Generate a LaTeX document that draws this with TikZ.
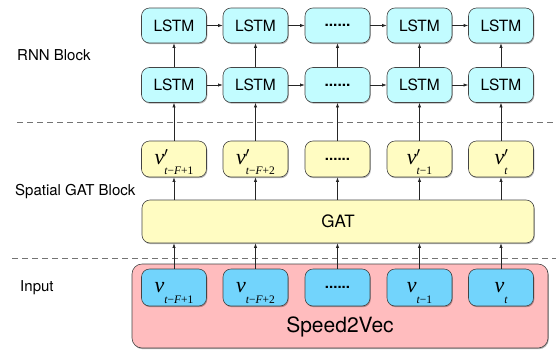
\documentclass[tikz,border=0pt]{standalone}
\usepackage{fontspec}
\setmainfont{TeX Gyre Heros}
\newfontfamily\mytms{Liberation Serif}
\usetikzlibrary{shadows,arrows.meta}
\definecolor{lstmc}{HTML}{C2FCFF}
\definecolor{yelc}{HTML}{FFFCC2}
\definecolor{bluec}{HTML}{72D4FC}
\definecolor{pinkc}{HTML}{FFBCBE}
\definecolor{edgec}{HTML}{444444}
% v with optional prime and a subscript
\newcommand\myvar[2]{\rule{0pt}{21pt}{\mytms\fontsize{22}{22}\selectfont\itshape v}%
  #1\raisebox{-10.5pt}{\mytms\fontsize{11.5}{12}\selectfont #2}}
\newcommand\myprime{\rlap{\kern-0.5pt\raisebox{7pt}{\fontsize{15}{15}\selectfont$\prime$}}}
\tikzset{
  box/.style={draw=edgec, line width=0.6pt, rounded corners=8pt,
    minimum width=65pt, minimum height=35pt, inner sep=0pt,
    drop shadow={shadow xshift=0.8pt, shadow yshift=-1.2pt, opacity=0.3, fill=black}},
  lstm/.style={box, fill=lstmc, font=\fontsize{15.5}{16}\selectfont},
  ybox/.style={box, fill=yelc, minimum height=36pt},
  bbox/.style={box, fill=bluec, minimum height=37pt},
  arr/.style={-{Latex[length=4.5pt,width=3.2pt]}, draw=black!85, line width=0.6pt},
  sepline/.style={draw=black!55, line width=0.7pt, dash pattern=on 6pt off 4pt},
  lab/.style={anchor=west, inner sep=0pt, font=\fontsize{15}{16}\selectfont},
}
\begin{document}
\begin{tikzpicture}[x=1pt, y=-1pt]
\useasboundingbox (0,0) rectangle (556,351);
% labels
\node[lab] (rnnlab) at (17,55) {RNN Block};
\node[lab] (gatlab) at (15,192) {Spatial GAT Block};
\node[lab] (inlab) at (20,288) {Input};
% separators
\coordinate (d1a) at (17,122); \coordinate (d1b) at (556,122);
\coordinate (d2a) at (12,258); \coordinate (d2b) at (556,258);
\draw[sepline] (d1a) -- (d1b);
\draw[sepline] (d2a) -- (d2b);
% LSTM rows
\node[lstm] (l1) at (174,25.5) {LSTM};
\node[lstm] (l2) at (255.5,25.5) {LSTM};
\node[lstm] (l3) at (337.5,25.5) {\textbf{......}};
\node[lstm] (l4) at (419.5,25.5) {LSTM};
\node[lstm] (l5) at (501,25.5) {LSTM};
\node[lstm] (m1) at (174,85) {LSTM};
\node[lstm] (m2) at (255.5,85) {LSTM};
\node[lstm] (m3) at (337.5,85) {\textbf{......}};
\node[lstm] (m4) at (419.5,85) {LSTM};
\node[lstm] (m5) at (501,85) {LSTM};
% GAT outputs
\node[ybox] (y1) at (174,159) {\myvar{\myprime}{\itshape t\upshape−\itshape F\upshape+1}};
\node[ybox] (y2) at (255.5,159) {\myvar{\myprime}{\itshape t\upshape−\itshape F\upshape+2}};
\node[ybox] (y3) at (337.5,159) {\fontsize{15}{16}\selectfont\textbf{......}};
\node[ybox] (y4) at (419.5,159) {\myvar{\myprime}{\itshape t\upshape−1}};
\node[ybox] (y5) at (501,159) {\myvar{\myprime}{\itshape t}};
% GAT
\node[box, fill=yelc, minimum width=392pt, minimum height=43pt, font=\fontsize{17}{18}\selectfont] (gat) at (338,221.5) {GAT};
% Speed2Vec
\node[box, fill=pinkc, rounded corners=10pt, minimum width=416pt, minimum height=84pt] (s2v) at (340,306) {};
\node[font=\fontsize{21}{22}\selectfont, inner sep=0pt] (s2vlab) at (340,327) {Speed2Vec};
\node[bbox] (b1) at (174,287.5) {\myvar{}{\itshape t\upshape−\itshape F\upshape+1}};
\node[bbox] (b2) at (255.5,287.5) {\myvar{}{\itshape t\upshape−\itshape F\upshape+2}};
\node[bbox] (b3) at (337.5,287.5) {\fontsize{15}{16}\selectfont\textbf{......}};
\node[bbox] (b4) at (419.5,287.5) {\myvar{}{\itshape t\upshape−1}};
\node[bbox] (b5) at (501,287.5) {\myvar{}{\itshape t}};
% connectors
\foreach \i/\j in {1/2,2/3,3/4,4/5}{
  \draw[arr] (l\i.east) -- (l\j.west);
  \draw[arr] (m\i.east) -- (m\j.west);
}
\foreach \i in {1,...,5}{
  \draw[arr] (m\i.north) -- (l\i.south);
  \draw[arr] (y\i.north) -- (m\i.south);
  \draw[arr] (y\i.south |- gat.north) -- (y\i.south);
  \draw[arr] (b\i.north) -- (b\i.north |- gat.south);
}
\end{tikzpicture}
\end{document}
